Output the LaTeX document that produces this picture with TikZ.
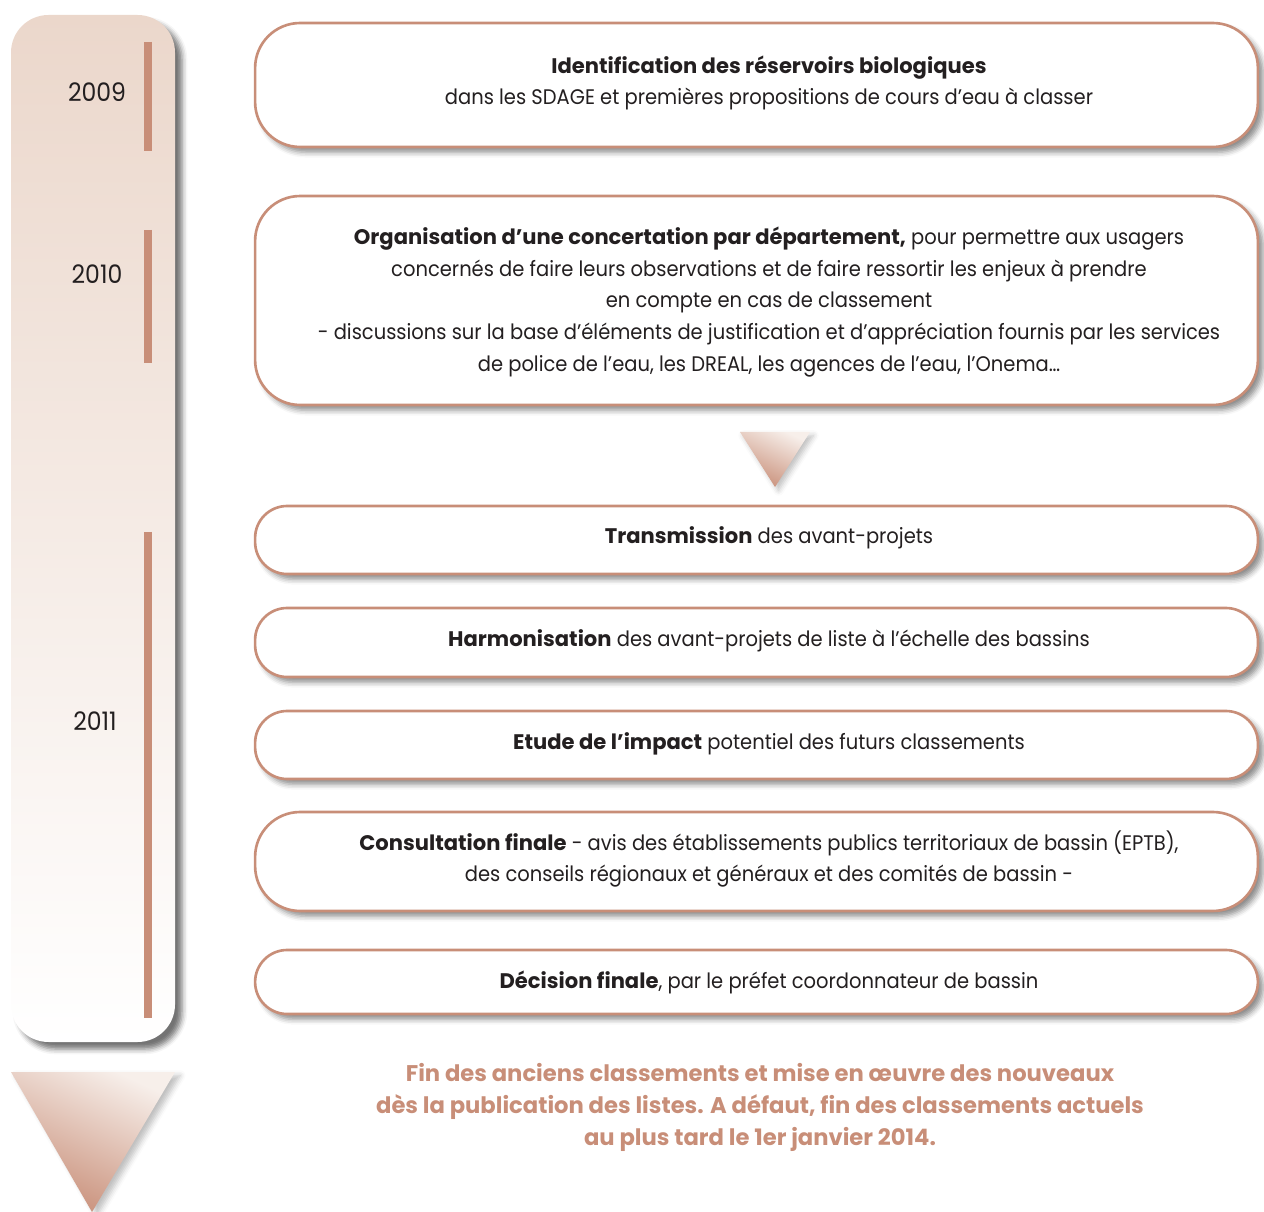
\documentclass[tikz,border=0pt]{standalone}
\usepackage{fontspec}
\setmainfont{Poppins}[FakeStretch=0.925]
\newfontfamily\grasfont{Poppins}[FakeStretch=1.0]
\newcommand\gras[1]{{\grasfont\bfseries #1}}
\usetikzlibrary{shadows.blur}
\definecolor{brun}{RGB}{200,142,120}
\definecolor{peche}{RGB}{235,215,203}
\definecolor{ombre}{RGB}{186,188,192}
\definecolor{encre}{RGB}{35,31,32}
\tikzset{
  etape/.style={draw=brun, line width=1.5pt, fill=white, rounded corners=0.9cm, minimum width=20.06cm, inner sep=0pt,
    blur shadow={shadow xshift=3pt, shadow yshift=-3pt, shadow blur radius=3pt, shadow opacity=45}},
  petite/.style={etape, rounded corners=0.64cm},
  texte/.style={align=center, text=encre, font=\fontsize{12}{18}\selectfont},
  annee/.style={text=encre, font=\fontsize{14.5}{16}\selectfont},
  repere/.style={line width=4.5pt, draw=brun},
}
\begin{document}
\begin{tikzpicture}[x=0.02cm, y=-0.02cm, line join=round]
\useasboundingbox (0,0) rectangle (1264,1212);
% barre des annees
\path[top color=peche, bottom color=white, rounded corners=0.75cm,
  blur shadow={shadow xshift=4pt, shadow yshift=-4pt, shadow blur radius=3pt, shadow opacity=55}]
  (11,15) rectangle (175,1042);
\foreach \a/\b in {42/151,230/363,532/1018}
  \draw[repere] (148,\a)--(148,\b);
\node[annee] (a2009) at (97,92) {2009};
\node[annee] (a2010) at (97,274) {2010};
\node[annee] (a2011) at (95,721) {2011};
% fleches
\path[top color=peche!40!white, bottom color=brun, shading angle=-25,
  blur shadow={shadow xshift=2pt, shadow yshift=-2pt, shadow blur radius=3pt, shadow opacity=25}]
  (740,432) -- (810,432) -- (775,487) -- cycle;
\path[top color=peche!40!white, bottom color=brun, shading angle=-25,
  blur shadow={shadow xshift=3pt, shadow yshift=-2pt, shadow blur radius=3pt, shadow opacity=25}]
  (11,1072) -- (175,1072) -- (92,1212) -- cycle;
% etapes
\node[etape, minimum height=2.48cm] (e1) at (756.5,85) {};
\node[etape, minimum height=4.18cm] (e2) at (756.5,300.5) {};
\node[petite, minimum height=1.36cm] (e3) at (756.5,540) {};
\node[petite, minimum height=1.38cm] (e4) at (756.5,642.5) {};
\node[petite, minimum height=1.36cm] (e5) at (756.5,745) {};
\node[etape, minimum height=1.98cm] (e6) at (756.5,861.5) {};
\node[petite, minimum height=1.28cm] (e7) at (756.5,982) {};
\node[texte] (t1) at (769,83) {\gras{Identification des réservoirs biologiques}\\dans les SDAGE et premières propositions de cours d’eau à classer};
\node[texte] (t2) at (769,302) {\gras{Organisation d’une concertation par département,} pour permettre aux usagers\\concernés de faire leurs observations et de faire ressortir les enjeux à prendre\\en compte en cas de classement\\- discussions sur la base d’éléments de justification et d’appréciation fournis par les services\\de police de l’eau, les DREAL, les agences de l’eau, l’Onema…};
\node[texte] (t3) at (769,538) {\gras{Transmission} des avant-projets};
\node[texte] (t4) at (769,641) {\gras{Harmonisation} des avant-projets de liste à l’échelle des bassins};
\node[texte] (t5) at (769,744) {\gras{Etude de l’impact} potentiel des futurs classements};
\node[texte] (t6) at (769,859) {\gras{Consultation finale} - avis des établissements publics territoriaux de bassin (EPTB),\\des conseils régionaux et généraux et des comités de bassin -};
\node[texte] (t7) at (769,982) {\gras{Décision finale}, par le préfet coordonnateur de bassin};
\node[texte, text=brun, font=\fontsize{12.9}{18.2}\selectfont\grasfont\bfseries] (fin) at (760,1107)
  {Fin des anciens classements et mise en œuvre des nouveaux\\dès la publication des listes. A défaut, fin des classements actuels\\au plus tard le 1er janvier 2014.};
\end{tikzpicture}
\end{document}
